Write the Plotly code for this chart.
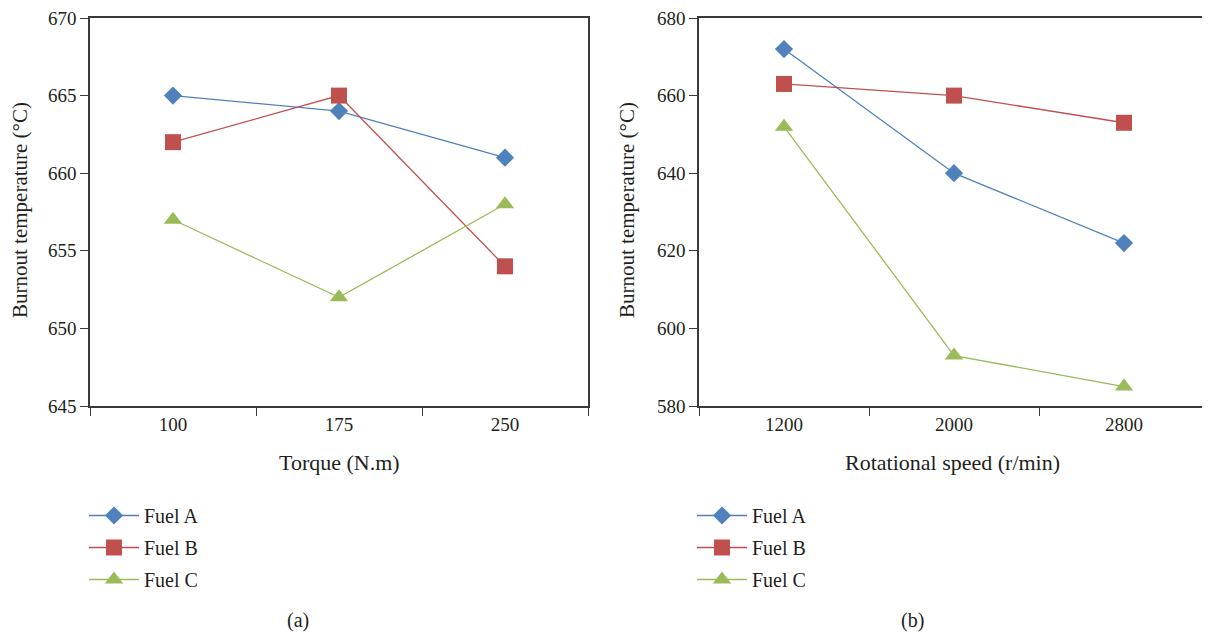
import plotly.graph_objects as go

# ---- data ----
torque = ["100", "175", "250"]
speed = ["1200", "2000", "2800"]
fuel_names = ["Fuel A", "Fuel B", "Fuel C"]
torque_A = [665, 664, 661]
torque_B = [662, 665, 654]
torque_C = [657, 652, 658]
speed_A = [672, 640, 622]
speed_B = [663, 660, 653]
speed_C = [652, 593, 585]

colors = ["#4F81BD", "#C0504D", "#9BBB59"]
symbols = ["diamond", "square", "triangle-up"]
msizes = [14, 16, 16]
FONT = "Liberation Serif"
AX = "#3a3a3a"
TXT = "#231f20"

# the page body adds an 8px margin around the figure; compensate in placement
OFF = 8
W, H = 1210, 633
def px(x):
    return (x - OFF) / W
def py(y):
    return 1 - (y - OFF) / H

fig = go.Figure()

for i, (name, ys) in enumerate(zip(fuel_names, [torque_A, torque_B, torque_C])):
    fig.add_trace(go.Scatter(
        x=torque, y=ys, name=name, mode="lines+markers", legendgroup="a" + str(i),
        line=dict(color=colors[i], width=1.3),
        marker=dict(symbol=symbols[i], size=msizes[i], color=colors[i]),
        xaxis="x", yaxis="y", legend="legend"))

for i, (name, ys) in enumerate(zip(fuel_names, [speed_A, speed_B, speed_C])):
    fig.add_trace(go.Scatter(
        x=speed, y=ys, name=name, mode="lines+markers", legendgroup="b" + str(i),
        line=dict(color=colors[i], width=1.3),
        marker=dict(symbol=symbols[i], size=msizes[i], color=colors[i]),
        xaxis="x2", yaxis="y2", legend="legend2"))

ydom = [py(406), py(18)]
common_x = dict(type="category", tickson="boundaries", ticks="outside", ticklen=8,
                tickcolor=AX, showline=True, linecolor=AX, linewidth=1.5, mirror=True,
                showgrid=False, zeroline=False, automargin=False, ticklabeloverflow="allow",
                tickfont=dict(family=FONT, size=19, color=TXT))
common_y = dict(ticks="outside", ticklen=8, tickcolor=AX, showline=True, linecolor=AX,
                linewidth=1.5, mirror=True, showgrid=False, zeroline=False, automargin=False,
                ticklabeloverflow="allow",
                tickfont=dict(family=FONT, size=19, color=TXT))

leg = dict(xanchor="left", yanchor="top",
           font=dict(family=FONT, size=20, color=TXT),
           bgcolor="rgba(0,0,0,0)", tracegroupgap=3, itemwidth=50)

fig.update_layout(
    template="none",
    width=W, height=H,
    margin=dict(l=0, r=0, t=0, b=0, autoexpand=False),
    paper_bgcolor="white", plot_bgcolor="white",
    font=dict(family=FONT, size=19, color=TXT),
    xaxis=dict(domain=[px(90), px(588)], anchor="y", range=[-0.5, 2.5], **common_x),
    yaxis=dict(domain=ydom, anchor="x", range=[645, 670], dtick=5, **common_y),
    xaxis2=dict(domain=[px(699), px(1209)], anchor="y2", range=[-0.5, 2.5], **common_x),
    yaxis2=dict(domain=ydom, anchor="x2", range=[580, 680], dtick=20, **common_y),
    legend=dict(x=px(84), y=py(496), **leg),
    legend2=dict(x=px(692), y=py(496), **leg),
    showlegend=True,
)

ann = [
    dict(text="Torque (N.m)", x=px(339), y=py(463), size=22),
    dict(text="Rotational speed (r/min)", x=px(953), y=py(463), size=22),
    dict(text="(a)", x=px(298), y=py(620), size=20),
    dict(text="(b)", x=px(912), y=py(620), size=20),
]
for a in ann:
    fig.add_annotation(xref="paper", yref="paper", showarrow=False,
                       xanchor="center", yanchor="middle", text=a["text"], x=a["x"], y=a["y"],
                       font=dict(family=FONT, size=a["size"], color=TXT))

for xx in [20, 627]:
    fig.add_annotation(text="Burnout temperature (°C)", xref="paper", yref="paper",
                       x=px(xx), y=py(210), textangle=-90, showarrow=False,
                       xanchor="center", yanchor="middle",
                       font=dict(family=FONT, size=21, color=TXT))

fig.write_html("out.html")
